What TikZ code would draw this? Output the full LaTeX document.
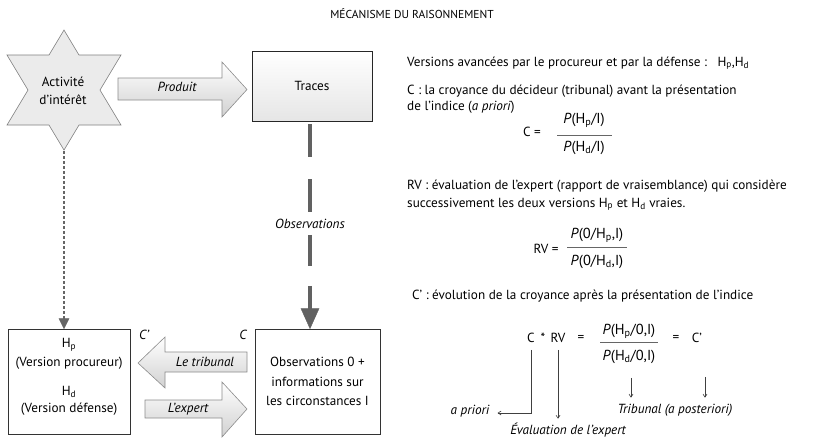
\documentclass[tikz,border=0pt]{standalone}
\usepackage{fontspec}
\setmainfont{PT Sans}
\usetikzlibrary{arrows.meta,calc}
\begin{document}
\begin{tikzpicture}[x=1pt,y=-1pt,
  every node/.style={font=\fontsize{13.2}{16}\selectfont, inner sep=0pt},
  blockarrow/.style={draw=black!45, line width=0.6pt, top color=white, bottom color=black!18, shading angle=0},
  box/.style={draw=black!80, line width=0.8pt, align=center},
  lbl/.style={font=\fontsize{13.2}{16}\selectfont\itshape},
  frac/.style={font=\fontsize{14.5}{17}\selectfont},
  txt/.style={anchor=base west},
  thin arrow/.style={draw=black!75, line width=0.6pt, -{Straight Barb[length=3pt,width=4pt]}}
]
\useasboundingbox (0,0) rectangle (824,440);

% title
\node[font=\fontsize{11.5}{14}\selectfont] (title) at (412,14) {MÉCANISME DU RAISONNEMENT};

% star
\coordinate (sc) at (64,90);
\draw[draw=black!50, fill=black!8, line width=0.6pt]
  ($(sc)+(0,-60)$) -- ++(15,25) -- ++(42,0) -- ++(-21,35) -- ++(21,35) -- ++(-42,0)
  -- ++(-15,25) -- ++(-15,-25) -- ++(-42,0) -- ++(21,-35) -- ++(-21,-35) -- ++(42,0) -- cycle;
\node[align=center, font=\fontsize{13.2}{18}\selectfont] (act) at (63,91) {Activité\\d’intérêt};
\coordinate (starbot) at (64,151);

% Traces
\node[box, minimum width=120pt, minimum height=70pt, top color=white, bottom color=black!10, draw=black!85] (traces) at (312,86) {Traces};

% Produit arrow
\path[blockarrow] (118,78) -- (222,78) -- (222,62) -- (247,89.5) -- (222,117) -- (222,100) -- (118,100) -- cycle;
\node[lbl] (produit) at (177,87) {Produit};

% bottom boxes
\node[box, minimum width=122pt, minimum height=105pt] (hyp) at (69,381.5) {};
\node (hp) at (69,345) {H\textsubscript{p}};
\node (vp) at (69,363) {(Version procureur)};
\node (hd) at (69,392) {H\textsubscript{d}};
\node (vd) at (69,409) {(Version défense)};

\node[box, minimum width=125pt, minimum height=105pt, align=center, font=\fontsize{13.2}{19.5}\selectfont] (obs) at (317.5,381.5) {Observations 0 +\\informations sur\\les circonstances I};

% Observations thick dashed arrow
\node[lbl] (obslbl) at (310,224) {Observations};
\draw[line width=4pt, draw=black!62, dash pattern=on 33pt off 22pt, dash phase=-3pt]
  (traces.south -| obslbl) -- ([yshift=-3pt]obslbl.north);
\draw[line width=4pt, draw=black!62, dash pattern=on 31pt off 20pt]
  ([yshift=-6pt]obslbl.south) -- ([yshift=18pt]obs.north -| obslbl);
\draw[draw=black!62, fill=black!62] ([yshift=20pt]obs.north -| obslbl) ++(-9,0) -- ++(18,0) -- (obs.north -| obslbl) -- cycle;

% dotted arrow
\draw[draw=black!60, line width=1.4pt, dash pattern=on 3pt off 2pt] (starbot) -- ([yshift=10pt]hyp.north -| starbot);
\draw[draw=black!60, fill=black!60] ([yshift=10pt]hyp.north -| starbot) ++(-5,0) -- ++(10,0) -- (hyp.north -| starbot) -- cycle;

% tribunal arrow (left)
\path[blockarrow] (247,352) -- (165,352) -- (165,337) -- (138,363) -- (165,388) -- (165,372) -- (247,372) -- cycle;
\node[lbl] (tribunal) at (205,362) {Le tribunal};
% expert arrow (right)
\path[blockarrow] (145,400) -- (222,400) -- (222,382) -- (247,409) -- (222,437) -- (222,418) -- (145,418) -- cycle;
\node[lbl] (expert) at (188,409) {L’expert};

\node[lbl] (cprime) at (144,335) {C’};
\node[lbl] (cc) at (243,335) {C};

% right text
\node[txt] (t1) at (407,66) {Versions avancées par le procureur et par la défense :~~~H\textsubscript{p},H\textsubscript{d}};
\node[txt] (t2) at (407,94) {C : la croyance du décideur (tribunal) avant la présentation};
\node[txt] (t3) at (407,110) {de l’indice (\textit{a priori})};
\node (ceq) at (532,132) {C =};
\node[frac] (cnum) at (584,120) {\textit{P}(H\textsubscript{p}/I)};
\node[frac] (cden) at (584,148) {\textit{P}(H\textsubscript{d}/I)};
\draw[black!60, line width=0.5pt] (557,135) -- (612,135);

\node[txt] (t4) at (407,189) {RV : évaluation de l’expert (rapport de vraisemblance) qui considère};
\node[txt] (t5) at (407,207) {successivement les deux versions H\textsubscript{p} et H\textsubscript{d} vraies.};
\node (rveq) at (546,249) {RV =};
\node[frac] (rvnum) at (597,235) {\textit{P}(0/H\textsubscript{p},I)};
\node[frac] (rvden) at (597,262) {\textit{P}(0/H\textsubscript{d},I)};
\draw[black!60, line width=0.5pt] (567,247) -- (627,247);

\node[txt] (t6) at (412,299) {C’ : évolution de la croyance après la présentation de l’indice};

\node (eqc) at (531,338) {C};
\node (star) at (543,338) {*};
\node (eqrv) at (558,338) {RV};
\node (eq1) at (581,338) {=};
\node[frac] (fnum) at (629,331) {\textit{P}(H\textsubscript{p}/0,I)};
\node[frac] (fden) at (629,357) {\textit{P}(H\textsubscript{d}/0,I)};
\draw[black!60, line width=0.5pt] (600,342) -- (658,342);
\node (eq2) at (676,338) {=};
\node (eqcp) at (697,338) {C’};

\node[lbl] (apriori) at (470,411) {a priori};
\node[lbl] (evalexp) at (568,430) {Évaluation de l’expert};
\node[lbl] (tribpost) at (675,410) {Tribunal (a posteriori)};

\draw[thin arrow] ([yshift=-7pt]eqc.south) -- ([yshift=-2pt]eqc.south |- apriori) -- ([xshift=8pt,yshift=-2pt]apriori.east);
\draw[thin arrow] ([yshift=-7pt]eqrv.south) -- ([yshift=4pt]eqrv.south |- evalexp.north);
\draw[thin arrow] ([xshift=2pt,yshift=-14pt]fden.south) -- ([xshift=2pt,yshift=6pt]fden.south |- tribpost.north);
\draw[thin arrow] ([xshift=8pt,yshift=-34pt]eqcp.south) -- ([xshift=8pt,yshift=6pt]eqcp.south |- tribpost.north);
\end{tikzpicture}
\end{document}
